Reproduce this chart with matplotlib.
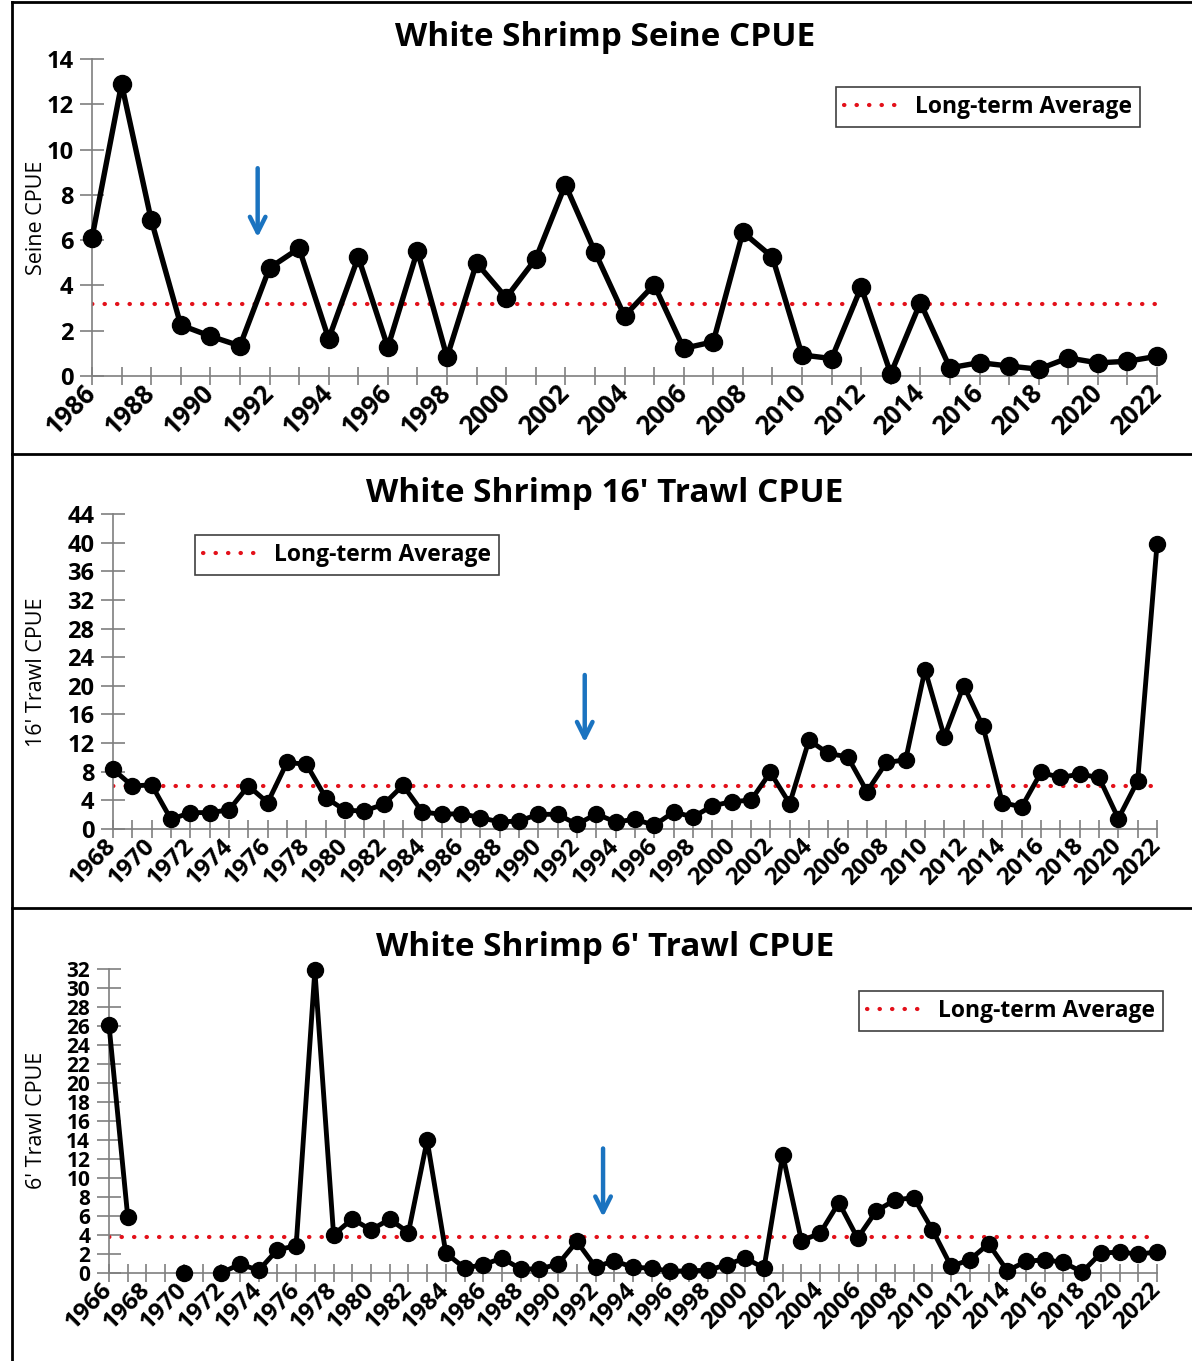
import numpy as np
import matplotlib
matplotlib.use("Agg")
import matplotlib.pyplot as plt
from matplotlib.ticker import MultipleLocator

plt.rcParams['font.family'] = ['Open Sans', 'DejaVu Sans']

# --- data ---
seine_years = list(range(1986, 2023))
seine_cpue = [6.1, 12.9, 6.9, 2.25, 1.76, 1.33, 4.77, 5.64, 1.64, 5.25, 1.27, 5.53, 0.83,
              4.99, 3.46, 5.18, 8.45, 5.48, 2.65, 4.03, 1.22, 1.51, 6.35, 5.25, 0.93, 0.77,
              3.92, 0.1, 3.24, 0.36, 0.59, 0.44, 0.3, 0.8, 0.58, 0.65, 0.87]
seine_avg = 3.18

trawl16_years = list(range(1968, 2023))
trawl16_cpue = [8.35, 6.02, 6.16, 1.35, 2.29, 2.29, 2.66, 6.02, 3.69, 9.29, 9.05, 4.39, 2.61,
                2.52, 3.45, 6.11, 2.38, 2.05, 2.15, 1.59, 0.98, 1.12, 2.05, 2.05, 0.65, 2.1,
                0.98, 1.36, 0.52, 2.38, 1.68, 3.22, 3.83, 4.02, 7.9, 3.55, 12.4, 10.55, 10.08,
                5.23, 9.29, 9.66, 22.26, 12.88, 20.02, 14.33, 3.69, 3.08, 7.9, 7.2, 7.66, 7.2,
                1.45, 6.72, 39.76]
trawl16_avg = 6.02

trawl6_years = list(range(1966, 2023))
trawl6_cpue = [26.1, 5.94, np.nan, np.nan, 0.0, np.nan, 0.0, 0.94, 0.28, 2.45, 2.86, 31.86,
               4.02, 5.69, 4.54, 5.66, 4.26, 13.97, 2.1, 0.52, 0.87, 1.57, 0.42, 0.42, 0.94,
               3.32, 0.63, 1.29, 0.59, 0.52, 0.17, 0.24, 0.28, 0.87, 1.57, 0.52, 12.47, 3.39,
               4.19, 7.41, 3.67, 6.53, 7.69, 7.93, 4.54, 0.7, 1.4, 3.07, 0.24, 1.22, 1.4, 1.12,
               0.1, 2.1, 2.2, 2.0, 2.2]
trawl6_avg = 3.74

W, H = 1192, 1361
fig = plt.figure(figsize=(W / 100, H / 100), dpi=100)


def fx(px):
    return px / W


def fy(py):
    return 1 - py / H


def panel(rect, years, vals, avg, ymax, ystep, title, title_y, ylabel, ylabel_y,
          arrow, leg_anchor, leg_loc, ms, lw, xfs, yfs):
    ax = fig.add_axes(rect)
    ax.plot(years, vals, color='black', lw=lw, marker='o', ms=ms, zorder=3, clip_on=False)
    ax.plot([years[0], years[-1]], [avg, avg], color='#e3101a', lw=3.0,
            linestyle=(0, (0.1, 2.9)), dash_capstyle='round', zorder=2,
            label='Long-term Average')
    ax.set_xlim(years[0], years[-1])
    ax.set_ylim(0, ymax)
    for s in ['top', 'right']:
        ax.spines[s].set_visible(False)
    for s in ['left', 'bottom']:
        ax.spines[s].set_color('#7f7f7f')
        ax.spines[s].set_linewidth(1.2)
    ax.xaxis.set_major_locator(MultipleLocator(2))
    ax.xaxis.set_minor_locator(MultipleLocator(1))
    ax.yaxis.set_major_locator(MultipleLocator(ystep))
    ax.tick_params(axis='both', which='both', direction='inout', color='#7f7f7f', width=1.2)
    ax.tick_params(axis='x', which='both', length=13)
    ax.tick_params(axis='y', length=17, labelsize=yfs, pad=5)
    ax.tick_params(axis='x', labelsize=xfs, pad=3)
    for lab in ax.get_yticklabels():
        lab.set_fontweight('bold')
    for lab in ax.get_xticklabels():
        lab.set_fontweight('bold')
        lab.set_rotation(45)
        lab.set_ha('right')
        lab.set_va('center')
        lab.set_rotation_mode('anchor')
    ax.annotate('', xy=(arrow[0], arrow[2]), xytext=(arrow[0], arrow[1]),
                arrowprops=dict(arrowstyle='->', color='#1a73c0', lw=3.2,
                                mutation_scale=28))
    fig.text(0.5076, title_y, title, ha='center', va='center', fontsize=24,
             fontweight='bold')
    fig.text(fx(37), ylabel_y, ylabel, rotation=90, ha='center', va='center',
             fontsize=15.5)
    ax.legend(loc=leg_loc, bbox_to_anchor=leg_anchor, bbox_transform=fig.transFigure,
              fancybox=False, edgecolor='#404040', framealpha=1, handlelength=2.7,
              handletextpad=0.4, prop={'size': 16.5, 'weight': 'bold'}, borderpad=0.35,
              borderaxespad=0)
    ax.get_legend().get_frame().set_linewidth(1.2)
    return ax


panel([fx(92), fy(376), fx(1157 - 92), (376 - 59) / H], seine_years, seine_cpue, seine_avg,
      14, 2, 'White Shrimp Seine CPUE', fy(38), 'Seine CPUE', fy(218),
      (1991.6, 9.3, 6.0), (fx(1140), fy(87)), 'upper right', 13, 3.9, 18.5, 17)

panel([fx(113), fy(829), fx(1157 - 113), (829 - 514) / H], trawl16_years, trawl16_cpue,
      trawl16_avg, 44, 4, "White Shrimp 16' Trawl CPUE", fy(493), "16' Trawl CPUE", fy(672),
      (1992.4, 21.9, 11.7), (fx(195), fy(535)), 'upper left', 11.5, 3.5, 17.5, 17)

panel([fx(109), fy(1273), fx(1157 - 109), (1273 - 969) / H], trawl6_years, trawl6_cpue,
      trawl6_avg, 32, 2, "White Shrimp 6' Trawl CPUE", fy(947), "6' Trawl CPUE", fy(1120),
      (1992.4, 13.4, 5.6), (fx(1163), fy(991)), 'upper right', 11.5, 3.5, 17.5, 15)

# panel frame lines like the original chart areas
for y in [1.5, 454, 908]:
    fig.add_artist(plt.Line2D([fx(12), 1], [fy(y), fy(y)], color='black', lw=2))
fig.add_artist(plt.Line2D([fx(12), fx(12)], [0, fy(1.5)], color='black', lw=2))

fig.savefig('out.png', dpi=100)
